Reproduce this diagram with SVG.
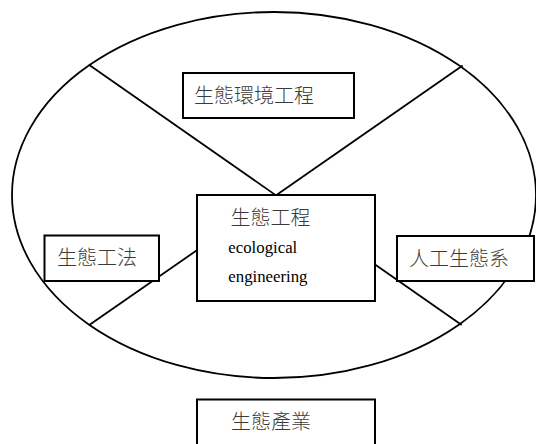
<svg xmlns="http://www.w3.org/2000/svg" width="536" height="444" viewBox="0 0 536 444">
<style>
.bg{fill:#ffffff}
.outline{fill:none;stroke:#000;stroke-width:1.8}
.conn{stroke:#000;stroke-width:1.8;fill:none}
.box{fill:#fff;stroke:#000;stroke-width:2}
.cjk{font-family:"Noto Sans CJK TC","Noto Sans CJK SC",sans-serif;font-size:20px;font-weight:300;fill:#3a3a3a}
.en{font-family:"Liberation Serif","Times New Roman",serif;font-size:16.8px;fill:#000}
</style>
<rect class="bg" x="0" y="0" width="536" height="444"/>
<g id="ellipse">
<ellipse class="outline" cx="274" cy="195" rx="262" ry="183"/>
</g>
<g id="connectors">
<line class="conn" x1="89.3" y1="65" x2="461.7" y2="325"/>
<line class="conn" x1="462.7" y1="65.5" x2="89.3" y2="325"/>
</g>
<g id="env-eng">
<rect class="box" x="183" y="73" width="171" height="45"/>
<text class="cjk" x="194" y="103">生態環境工程</text>
</g>
<g id="eco-eng">
<rect class="box" x="197" y="195" width="178" height="106"/>
<text class="cjk" x="230.5" y="225">生態工程</text>
<text class="en" x="228.3" y="252.7">ecological</text>
<text class="en" x="228.3" y="281.7">engineering</text>
</g>
<g id="eco-method">
<rect class="box" x="44.5" y="235.5" width="114.5" height="45.5"/>
<text class="cjk" x="57" y="265">生態工法</text>
</g>
<g id="artificial-eco">
<rect class="box" x="397" y="236" width="137" height="45"/>
<text class="cjk" x="409" y="266">人工生態系</text>
</g>
<g id="eco-industry">
<rect class="box" x="197" y="399.5" width="178" height="60"/>
<text class="cjk" x="231" y="428.5">生態產業</text>
</g>
</svg>
